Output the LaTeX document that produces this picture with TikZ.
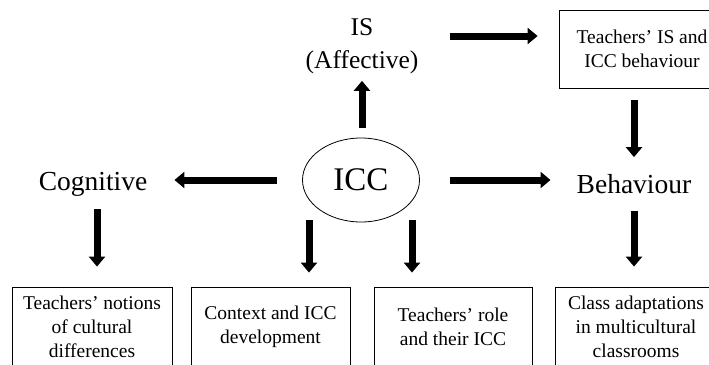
\documentclass[tikz,border=0pt]{standalone}
\usepackage{fontspec}
\setmainfont{Liberation Serif}
\usepackage{tikz}
\usetikzlibrary{positioning,shapes.geometric,arrows.meta}
\usepackage{xcolor}

\begin{document}
\begin{tikzpicture}[
        x=1pt, y=-1pt,
        label_text/.style={align=center, inner sep=3pt, font=\fontsize{27.5}{33}\selectfont},
        core/.style={ellipse, draw, line width=0.8pt, minimum width=117pt, minimum height=84pt, font=\fontsize{33}{36}\selectfont},
        box/.style={rectangle, draw, line width=0.8pt, align=center, font=\fontsize{19.5}{24}\selectfont},
        big_arrow/.style={line width=7pt, -{Triangle[width=16pt,length=10pt]}}
    ]
        \useasboundingbox (0,0) rectangle (709,364);
        \clip (0,0) rectangle (709,364);

        % Centre node
        \node[core] (icc) at (361,180) {ICC};

        % The three components
        \node[label_text, font=\fontsize{25.5}{33}\selectfont] (is) at (362,46) {IS\\(Affective)};
        \node[label_text] (cognitive) at (93,184) {Cognitive};
        \node[label_text] (behaviour) at (634,184) {Behaviour};

        % Boxes
        \node[box, minimum width=166pt, minimum height=78pt] (is_box) at (642,49) {Teachers' IS and\\ICC behaviour};
        \node[box, minimum width=160pt, minimum height=80pt] (notions) at (92,327) {Teachers' notions\\of cultural\\differences};
        \node[box, minimum width=159pt, minimum height=80pt] (context) at (270.5,327) {Context and ICC\\development};
        \node[box, minimum width=158pt, minimum height=80pt] (role) at (453,327) {Teachers' role\\and their ICC};
        \node[box, minimum width=162pt, minimum height=80pt] (adapt) at (636,327) {Class adaptations\\in multicultural\\classrooms};

        % Connections
        \draw[big_arrow, shorten <=10pt, shorten >=4pt] (icc.north -| is) -- (is.south);
        \draw[big_arrow, shorten <=28pt, shorten >=21pt] (is.east |- 0,36) -- (is_box.west |- 0,36);
        \draw[big_arrow, shorten <=25pt, shorten >=24pt] (icc.west) -- (icc.west -| cognitive.east);
        \draw[big_arrow, shorten <=30pt, shorten >=23pt] (icc.east) -- (icc.east -| behaviour.west);
        \draw[big_arrow, shorten <=12pt, shorten >=14pt] (is_box.south -| behaviour) -- (behaviour.north);
        \draw[big_arrow, shorten <=14pt, shorten >=20pt] (behaviour.south) -- (behaviour.south |- adapt.north);
        \draw[big_arrow, shorten <=10pt, shorten >=20pt] ([xshift=4pt]cognitive.south) -- ([xshift=4pt]cognitive.south |- notions.north);
        \draw[big_arrow, shorten <=-2pt, shorten >=14pt] ([xshift=-52pt]icc.south) -- ([xshift=-52pt]icc.south |- context.north);
        \draw[big_arrow, shorten <=-2pt, shorten >=14pt] ([xshift=51pt]icc.south) -- ([xshift=51pt]icc.south |- role.north);

    \end{tikzpicture}
\end{document}
